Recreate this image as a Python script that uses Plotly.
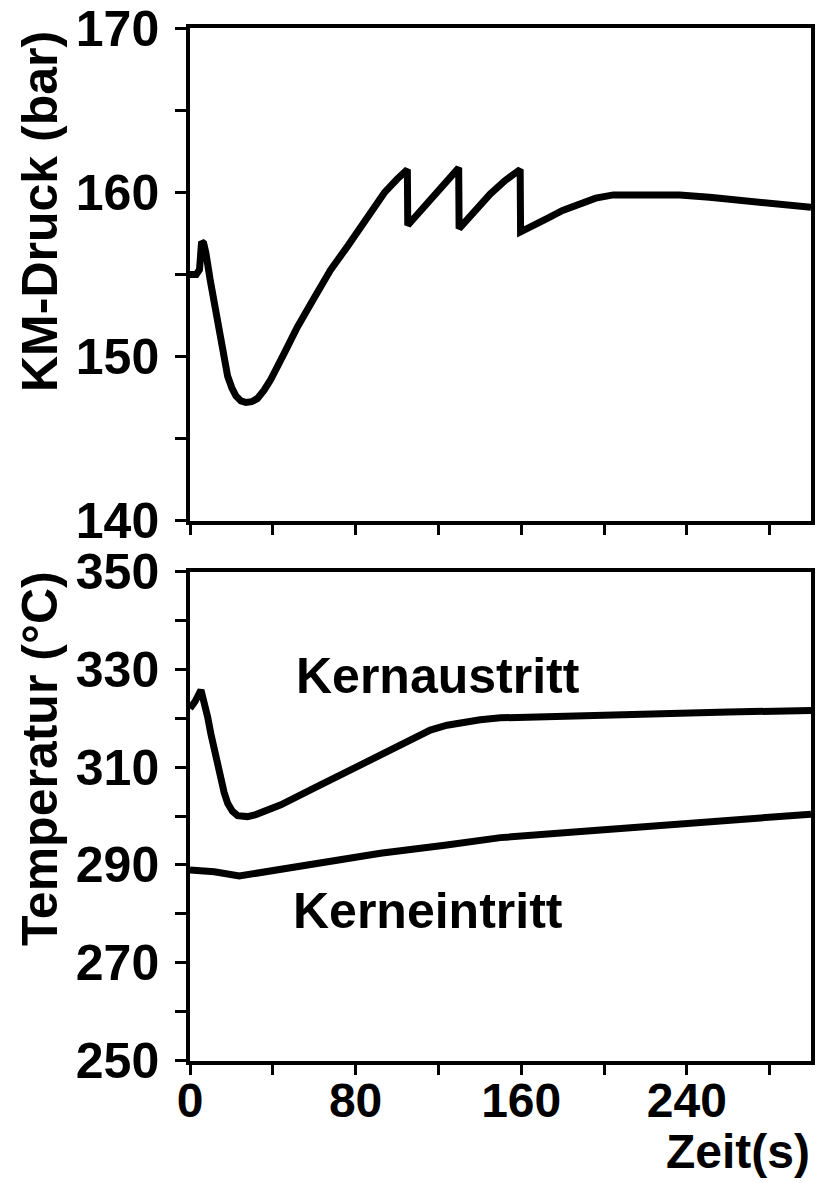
import plotly.graph_objects as go

# ---- data ----
t_p = [0, 3, 4.6, 5.6, 6.6, 7.7, 9.7, 11.7, 13.4, 15.0, 16.6, 18.2, 20.2, 22.2,
       24.6, 27.0, 29.8, 32.6, 35.8, 39.0, 45.5, 51.9, 59.9, 68.0, 76.0, 82.4,
       88.0, 94.0, 100.0, 105.0, 105.2, 111.0, 117.0, 124.0, 129.8, 130.0, 137.0,
       145.0, 152.0, 159.5, 159.7, 166.0, 172.4, 180.0, 188.4, 196.0, 204.5,
       220.6, 236.6, 251.0, 270.0, 285.0, 300.0]
p_km = [155.0, 155.0, 155.3, 157.0, 156.9, 156.3, 154.7, 153.2, 151.8, 150.6,
        149.6, 148.8, 148.1, 147.6, 147.3, 147.2, 147.25, 147.45, 147.95, 148.6,
        150.2, 151.8, 153.55, 155.3, 156.7, 157.9, 159.0, 160.0, 160.8, 161.4,
        158.0, 158.8, 159.7, 160.6, 161.5, 157.8, 158.8, 159.9, 160.7, 161.4,
        157.6, 157.95, 158.4, 158.9, 159.3, 159.65, 159.85, 159.9, 159.85, 159.7,
        159.5, 159.3, 159.1]

t_aus = [0, 2.5, 5.3, 6.8, 8.5, 10.1, 11.7, 13.3, 14.9, 16.5, 18.2, 20.5, 23.0,
         25.4, 27.8, 31.8, 35.8, 43.9, 59.9, 76.0, 92.0, 108.1, 116.1, 124.2,
         132.0, 140.2, 150.0, 180.0, 220.0, 260.0, 300.0]
T_aus = [322.0, 323.5, 325.8, 323.5, 320.3, 316.8, 313.5, 310.3, 307.4, 304.8,
         302.6, 301.0, 300.1, 299.9, 299.9, 300.3, 300.9, 302.3, 305.7, 309.1,
         312.5, 315.9, 317.6, 318.6, 319.2, 319.7, 320.1, 320.5, 320.9, 321.3,
         321.6]

t_ein = [0, 11.7, 23.8, 35.8, 59.9, 92.0, 124.0, 140.0, 150.0, 200.0, 250.0, 300.0]
T_ein = [289.0, 288.6, 287.75, 288.6, 290.3, 292.4, 294.1, 295.0, 295.6, 297.2,
         298.8, 300.4]

x_major = [0, 80, 160, 240]

W, H = 823, 1183
def px_x(v):
    return v / W
def px_y(v):
    return 1 - v / H

fig = go.Figure()
line = dict(color="black", width=7)
fig.add_trace(go.Scatter(x=t_p, y=p_km, mode="lines", line=line, xaxis="x", yaxis="y"))
fig.add_trace(go.Scatter(x=t_aus, y=T_aus, mode="lines", line=line, xaxis="x2", yaxis="y2"))
fig.add_trace(go.Scatter(x=t_ein, y=T_ein, mode="lines", line=line, xaxis="x2", yaxis="y2"))

FAM = "Liberation Sans, Arial, sans-serif"
ytickfont = dict(family=FAM, size=50, color="black", weight="bold")
xtickfont = dict(family=FAM, size=48, color="black", weight="bold")
axcommon = dict(showline=True, linewidth=3.5, linecolor="black", mirror=True,
                ticks="outside", ticklen=11, tickwidth=2.5, tickcolor="black",
                showgrid=False, zeroline=False, automargin=False)
xdom = [px_x(190), px_x(811)]
mtick = dict(ticks="outside", ticklen=11, tickwidth=2.5, tickcolor="black")

fig.update_layout(
    width=W, height=H, margin=dict(l=0, r=0, t=0, b=0, autoexpand=False),
    paper_bgcolor="white", plot_bgcolor="white", showlegend=False,
    xaxis=dict(domain=xdom, anchor="y", range=[0, 300], dtick=40, tick0=0,
               showticklabels=False, tickfont=xtickfont, **axcommon),
    yaxis=dict(domain=[px_y(520.7), px_y(28.3)], anchor="x", range=[140, 170],
               dtick=10, tick0=140, ticklabelstandoff=6, tickfont=ytickfont,
               minor=dict(dtick=5, **mtick), **axcommon),
    xaxis2=dict(domain=xdom, anchor="y2", range=[0, 300], tickvals=x_major,
                ticktext=[str(v) for v in x_major], ticklabelstandoff=-16,
                tickfont=xtickfont, minor=dict(dtick=40, tick0=0, **mtick), **axcommon),
    yaxis2=dict(domain=[px_y(1060.5), px_y(571.7)], anchor="x2", range=[250, 350],
                dtick=20, tick0=250, ticklabelstandoff=6, tickfont=ytickfont,
                minor=dict(dtick=10, **mtick), **axcommon),
)

tfont = dict(family=FAM, size=50, color="black", weight="bold")
zfont = dict(family=FAM, size=48, color="black", weight="bold")
fig.add_annotation(text="KM-Druck (bar)", xref="paper", yref="paper", x=px_x(40), y=px_y(212),
                   xanchor="center", yanchor="middle", textangle=-90, showarrow=False, font=tfont)
fig.add_annotation(text="Temperatur (°C)", xref="paper", yref="paper", x=px_x(40), y=px_y(759),
                   xanchor="center", yanchor="middle", textangle=-90, showarrow=False, font=tfont)
fig.add_annotation(text="Zeit(s)", xref="paper", yref="paper", x=px_x(812), y=px_y(1151),
                   xanchor="right", yanchor="middle", showarrow=False, font=zfont)
fig.add_annotation(text="Kernaustritt", xref="x2", yref="y2", x=50.1, y=328.7,
                   xanchor="left", yanchor="middle", showarrow=False, font=tfont)
fig.add_annotation(text="Kerneintritt", xref="x2", yref="y2", x=48.7, y=280.6,
                   xanchor="left", yanchor="middle", showarrow=False, font=tfont)

fig.write_html("out.html")
